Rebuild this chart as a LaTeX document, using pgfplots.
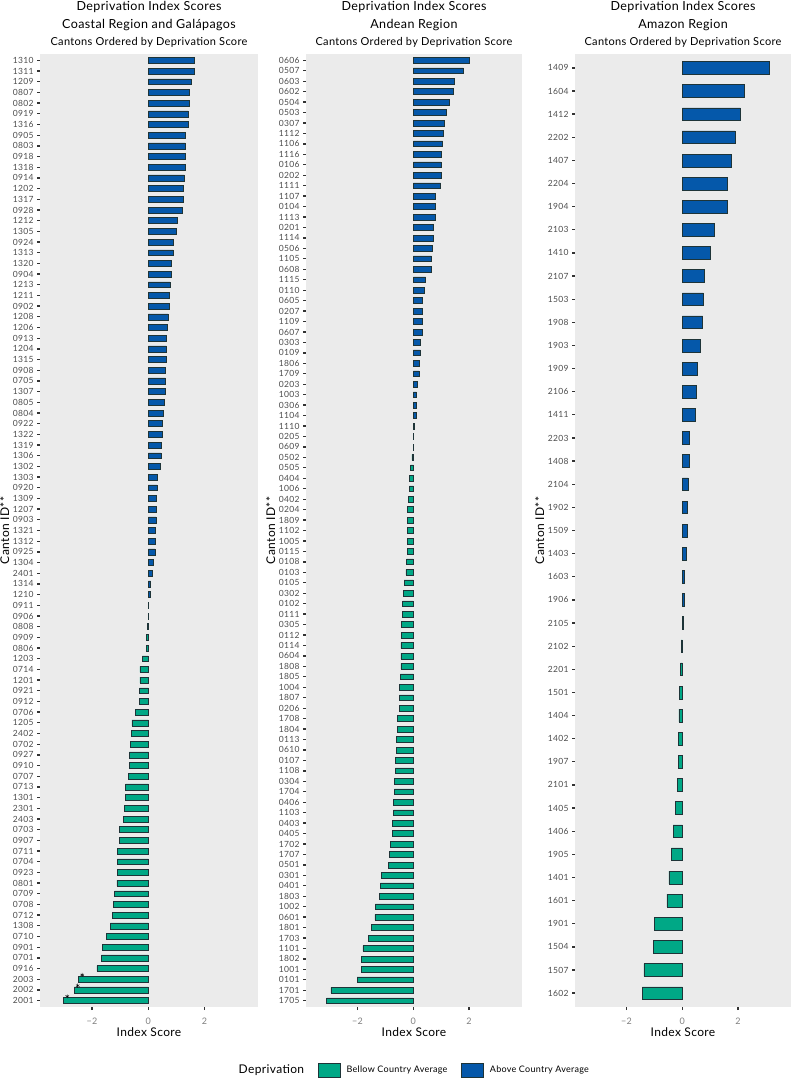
\documentclass[border=0pt]{standalone}
\usepackage{pgfplots}
\pgfplotsset{compat=1.18}
\usepackage{pgfplotstable}
\usepackage{fontspec}
\setmainfont{Lato}[LetterSpace=3]

\definecolor{panelbg}{HTML}{EBEBEB}
\definecolor{above}{HTML}{0558AA}
\definecolor{below}{HTML}{00A886}
\definecolor{edge}{HTML}{1E3438}

% Coastal Region and Galapagos
\pgfplotstableread{
y id score
0 1310 1.63
1 1311 1.62
2 1209 1.52
3 0807 1.45
4 0802 1.45
5 0919 1.42
6 1316 1.42
7 0905 1.33
8 0803 1.31
9 0918 1.31
10 1318 1.31
11 0914 1.27
12 1202 1.25
13 1317 1.24
14 0928 1.21
15 1212 1.02
16 1305 1.00
17 0924 0.88
18 1313 0.88
19 1320 0.82
20 0904 0.82
21 1213 0.77
22 1211 0.74
23 0902 0.74
24 1208 0.70
25 1206 0.67
26 0913 0.64
27 1204 0.64
28 1315 0.63
29 0908 0.61
30 0705 0.61
31 1307 0.60
32 0805 0.57
33 0804 0.52
34 0922 0.51
35 1322 0.48
36 1319 0.45
37 1306 0.45
38 1302 0.44
39 1303 0.31
40 0920 0.31
41 1309 0.30
42 1207 0.30
43 0903 0.27
44 1321 0.26
45 1312 0.23
46 0925 0.23
47 1304 0.17
48 2401 0.13
49 1314 0.08
50 1210 0.06
51 0911 0.01
52 0906 -0.01
53 0808 -0.02
54 0909 -0.06
55 0806 -0.07
56 1203 -0.21
57 0714 -0.30
58 1201 -0.30
59 0921 -0.31
60 0912 -0.33
61 0706 -0.46
62 1205 -0.58
63 2402 -0.60
64 0702 -0.63
65 0927 -0.67
66 0910 -0.67
67 0707 -0.70
68 0713 -0.81
69 1301 -0.81
70 2301 -0.85
71 2403 -0.88
72 0703 -1.02
73 0907 -1.02
74 0711 -1.10
75 0704 -1.10
76 0923 -1.11
77 0801 -1.12
78 0709 -1.20
79 0708 -1.24
80 0712 -1.29
81 1308 -1.35
82 0710 -1.49
83 0901 -1.63
84 0701 -1.67
85 0916 -1.83
86 2003 -2.49
87 2002 -2.64
88 2001 -3.02
}\coastal

% Andean Region
\pgfplotstableread{
y id score
0 0606 1.99
1 0507 1.80
2 0603 1.48
3 0602 1.42
4 0504 1.30
5 0503 1.19
6 0307 1.11
7 1112 1.07
8 1106 1.05
9 1116 1.02
10 0106 0.99
11 0202 0.99
12 1111 0.98
13 1107 0.80
14 0104 0.80
15 1113 0.80
16 0201 0.73
17 1114 0.70
18 0506 0.69
19 1105 0.65
20 0608 0.64
21 1115 0.44
22 0110 0.40
23 0605 0.33
24 0207 0.33
25 1109 0.33
26 0607 0.31
27 0303 0.26
28 0109 0.25
29 1806 0.23
30 1709 0.20
31 0203 0.13
32 1003 0.11
33 0306 0.11
34 1104 0.11
35 1110 0.03
36 0205 0.01
37 0609 -0.01
38 0502 -0.05
39 0505 -0.10
40 0404 -0.14
41 1006 -0.14
42 0402 -0.17
43 0204 -0.20
44 1809 -0.20
45 1102 -0.20
46 1005 -0.20
47 0115 -0.21
48 0108 -0.24
49 0103 -0.27
50 0105 -0.33
51 0302 -0.35
52 0102 -0.38
53 0111 -0.38
54 0305 -0.43
55 0112 -0.43
56 0114 -0.45
57 0604 -0.45
58 1808 -0.45
59 1805 -0.46
60 1004 -0.50
61 1807 -0.50
62 0206 -0.51
63 1708 -0.57
64 1804 -0.57
65 0113 -0.60
66 0610 -0.60
67 0107 -0.64
68 1108 -0.64
69 0304 -0.67
70 1704 -0.68
71 0406 -0.71
72 1103 -0.71
73 0403 -0.74
74 0405 -0.74
75 1702 -0.82
76 1707 -0.85
77 0501 -0.89
78 0301 -1.15
79 0401 -1.18
80 1803 -1.23
81 1002 -1.36
82 0601 -1.38
83 1801 -1.50
84 1703 -1.60
85 1101 -1.81
86 1802 -1.85
87 1001 -1.87
88 0101 -2.02
89 1701 -2.96
90 1705 -3.11
}\andean

% Amazon Region
\pgfplotstableread{
y id score
0 1409 3.12
1 1604 2.23
2 1412 2.08
3 2202 1.89
4 1407 1.76
5 2204 1.63
6 1904 1.62
7 2103 1.15
8 1410 1.01
9 2107 0.80
10 1503 0.76
11 1908 0.73
12 1903 0.65
13 1909 0.55
14 2106 0.51
15 1411 0.48
16 2203 0.25
17 1408 0.25
18 2104 0.21
19 1902 0.18
20 1509 0.18
21 1403 0.13
22 1603 0.08
23 1906 0.08
24 2105 0.02
25 2102 -0.04
26 2201 -0.06
27 1501 -0.10
28 1404 -0.12
29 1402 -0.14
30 1907 -0.15
31 2101 -0.18
32 1405 -0.26
33 1406 -0.33
34 1905 -0.39
35 1401 -0.48
36 1601 -0.55
37 1901 -0.99
38 1504 -1.04
39 1507 -1.38
40 1602 -1.43
}\amazon

\pgfplotsset{
  panel/.style={
    scale only axis, height=953pt,
    y dir=reverse, xmin=-3.85, xmax=3.9,
    axis background/.style={fill=panelbg},
    axis line style={draw=none},
    xtick={-2,0,2}, xticklabels={−2,0,2},
    xtick pos=lower, ytick pos=left,
    tick align=outside, major tick length=3pt,
    tick style={line width=1.3pt, color=black!80},
    y tick label style={font=\fontsize{8.5}{9}\selectfont, text=black!70},
    x tick label style={font=\fontsize{9}{10}\selectfont, text=black!50, yshift=-4pt},
    xlabel={Index Score}, ylabel={Canton ID**},
    label style={font=\fontsize{12}{14}\selectfont},
    xlabel style={yshift=3pt},
    ylabel style={at={(ticklabel cs:0.5,-3pt)}},
    title style={align=center, font=\fontsize{12.5}{17.5}\selectfont,
      anchor=south, at={(0.5,1)}, yshift=0pt, inner sep=0pt},
  },
  hbar/.style={xbar, bar width=0.55, bar shift=0pt, draw=edge, line width=0.5pt},
}

\newcommand{\bars}[1]{%
  \addplot[hbar, fill=above, forget plot, restrict x to domain=0:10] table[x=score, y=y] {#1};
  \addplot[hbar, fill=below, forget plot, restrict x to domain=-10:0] table[x=score, y=y] {#1};
}

\begin{document}
\begin{tikzpicture}
\useasboundingbox (0,0) rectangle (791pt,1079pt);

\begin{axis}[panel, at={(40pt,72pt)}, anchor=south west, width=218pt,
  ymin=-0.6, ymax=88.6, ytick={0,...,88},
  yticklabels from table={\coastal}{id},
  title={Deprivation Index Scores\\Coastal Region and Galápagos\\\fontsize{11}{17}\selectfont Cantons Ordered by Deprivation Score}]
\bars{\coastal}
\addplot[only marks, mark=asterisk, mark size=2pt, black, forget plot]
  coordinates {(-2.35,85.6) (-2.51,86.6) (-2.88,87.6)};
\end{axis}

\begin{axis}[panel, at={(306pt,72pt)}, anchor=south west, width=216pt,
  ymin=-0.6, ymax=90.6, ytick={0,...,90},
  yticklabels from table={\andean}{id},
  title={Deprivation Index Scores\\Andean Region\\\fontsize{11}{17}\selectfont Cantons Ordered by Deprivation Score},
  legend style={at={(0.49,-0.066)}, anchor=center, draw=none, fill=none,
    font=\fontsize{9}{10}\selectfont, legend columns=-1,
    /tikz/every odd column/.append style={column sep=4pt},
    /tikz/every even column/.append style={column sep=12pt}},
  legend image code/.code={\draw[#1, line width=0.5pt] (0pt,-7pt) rectangle (22pt,7pt);}]
\bars{\andean}
\addlegendimage{empty legend}
\addlegendentry{\fontsize{12}{13}\selectfont Deprivation}
\addlegendimage{fill=below, draw=edge}
\addlegendentry{Bellow Country Average}
\addlegendimage{fill=above, draw=edge}
\addlegendentry{Above Country Average}
\end{axis}

\begin{axis}[panel, at={(575pt,72pt)}, anchor=south west, width=216pt,
  ymin=-0.6, ymax=40.6, ytick={0,...,40},
  yticklabels from table={\amazon}{id},
  title={Deprivation Index Scores\\Amazon Region\\\fontsize{11}{17}\selectfont Cantons Ordered by Deprivation Score}]
\bars{\amazon}
\end{axis}
\end{tikzpicture}
\end{document}
